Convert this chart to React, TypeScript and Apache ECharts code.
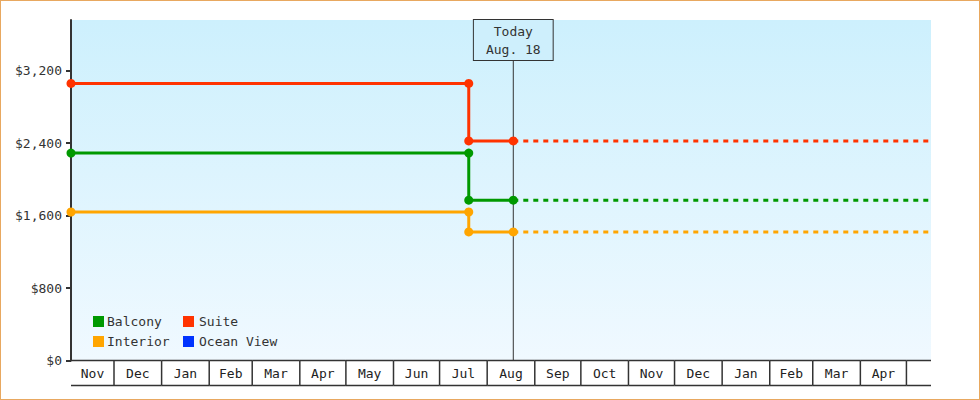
import React, { useEffect, useRef } from 'react';
import * as echarts from 'echarts';

// month cells under the plot
const monthLabels = ['Nov', 'Dec', 'Jan', 'Feb', 'Mar', 'Apr', 'May', 'Jun', 'Jul', 'Aug', 'Sep', 'Oct', 'Nov', 'Dec', 'Jan', 'Feb', 'Mar', 'Apr', 'May'];
const monthStarts = ['2024-11-01', '2024-12-01', '2025-01-01', '2025-02-01', '2025-03-01', '2025-04-01', '2025-05-01', '2025-06-01', '2025-07-01', '2025-08-01', '2025-09-01', '2025-10-01', '2025-11-01', '2025-12-01', '2026-01-01', '2026-02-01', '2026-03-01', '2026-04-01', '2026-05-01', '2026-06-01'];

const domainStart = '2024-11-03';
const domainEnd = '2026-05-17';
const todayDate = '2025-08-18';
const todayLabel = 'Today\nAug. 18';

// price history (solid) and forecast (dotted)
const priceDates = ['2024-11-03', '2025-07-20', '2025-07-20', '2025-08-18'];
const balconyPrices = [2290, 2290, 1770, 1770];
const suitePrices = [3060, 3060, 2425, 2425];
const interiorPrices = [1640, 1640, 1420, 1420];
const oceanViewPrices: number[] = [];
const forecastDates = ['2025-08-18', '2026-05-17'];

const yTicks = [0, 800, 1600, 2400, 3200];
const yMax = 3760;

const FONT = '"DejaVu Sans Mono", monospace';

const toMs = (s: string) => {
  const [y, m, d] = s.split('-').map(Number);
  return new Date(y, m - 1, d).getTime();
};

const App: React.FC = () => {
  const chartRef = useRef<HTMLDivElement>(null);

  useEffect(() => {
    document.body.style.margin = '0';
    if (!chartRef.current) return;
    const chart = echarts.init(chartRef.current, null, { renderer: 'svg' });

    const xMin = toMs(domainStart);
    const xMax = toMs(domainEnd);

    const history = (vals: number[]) => priceDates.map((d, i) => [toMs(d), vals[i]]);
    const forecast = (vals: number[]) =>
      vals.length ? forecastDates.map((d) => [toMs(d), vals[vals.length - 1]]) : [];

    const priceSeries = [
      { name: 'Balcony', color: '#009900', vals: balconyPrices },
      { name: 'Suite', color: '#ff3300', vals: suitePrices },
      { name: 'Interior', color: '#ffa500', vals: interiorPrices },
      { name: 'Ocean View', color: '#0033ff', vals: oceanViewPrices },
    ];

    const lineSeries: any[] = [];
    priceSeries.forEach((p) => {
      lineSeries.push({
        name: p.name,
        type: 'line',
        xAxisIndex: 0,
        yAxisIndex: 0,
        data: history(p.vals),
        color: p.color,
        symbol: 'circle',
        symbolSize: 9,
        lineStyle: { width: 3, color: p.color },
        itemStyle: { color: p.color },
        z: 3,
      });
      lineSeries.push({
        name: p.name,
        type: 'line',
        xAxisIndex: 0,
        yAxisIndex: 0,
        data: forecast(p.vals),
        color: p.color,
        showSymbol: false,
        lineStyle: { width: 3, color: p.color, type: [5, 5] },
        z: 2,
      });
    });

    const cells = monthLabels.map((label, i) => [toMs(monthStarts[i]), toMs(monthStarts[i + 1]), label]);

    const legendBase = {
      orient: 'vertical',
      top: 315,
      padding: 0,
      itemWidth: 11,
      itemHeight: 11,
      itemGap: 6,
      icon: 'rect',
      itemStyle: { borderWidth: 0 },
      selectedMode: false,
    };

    const option = {
      animation: false,
      grid: [
        {
          left: 71,
          right: 49,
          top: 20,
          bottom: 39.5,
          show: true,
          borderWidth: 0,
          backgroundColor: new echarts.graphic.LinearGradient(0, 0, 0, 1, [
            { offset: 0, color: '#cdf0fd' },
            { offset: 1, color: '#f0f9ff' },
          ]),
        },
        { left: 71, right: 49, top: 360.5, height: 25 },
      ],
      xAxis: [
        { type: 'time', gridIndex: 0, min: xMin, max: xMax, show: false },
        { type: 'time', gridIndex: 1, min: xMin, max: xMax, show: false },
      ],
      yAxis: [
        {
          type: 'value',
          gridIndex: 0,
          min: 0,
          max: yMax,
          splitLine: { show: false },
          axisLine: { show: true, lineStyle: { color: '#333', width: 2 } },
          axisTick: { show: true, length: 5, customValues: yTicks, lineStyle: { color: '#333', width: 2 } },
          axisLabel: {
            customValues: yTicks,
            margin: 9,
            color: '#333',
            fontFamily: FONT,
            fontSize: 13,
            formatter: (v: number) => '$' + v.toLocaleString('en-US'),
          },
        },
        { type: 'value', gridIndex: 1, min: 0, max: 1, show: false },
      ],
      legend: [
        {
          ...legendBase,
          data: ['Balcony', 'Interior'],
          left: 93,
          itemGap: 7,
          textStyle: { color: '#333', fontFamily: FONT, fontSize: 13, padding: [0, 0, 0, -2] },
        },
        {
          ...legendBase,
          data: ['Suite', 'Ocean View'],
          left: 183,
          itemGap: 7,
          textStyle: { color: '#333', fontFamily: FONT, fontSize: 13 },
        },
      ],
      series: [
        {
          name: 'today',
          type: 'custom',
          xAxisIndex: 0,
          yAxisIndex: 0,
          data: [[toMs(todayDate), yMax]],
          z: 1,
          silent: true,
          renderItem: (params: any, api: any) => {
            const top = api.coord([api.value(0), api.value(1)]);
            const bottom = api.coord([api.value(0), 0]);
            return {
              type: 'group',
              children: [
                {
                  type: 'line',
                  shape: { x1: top[0], y1: top[1] + 40, x2: bottom[0], y2: bottom[1] },
                  style: { stroke: '#333', lineWidth: 1 },
                },
                {
                  type: 'text',
                  x: top[0],
                  y: top[1],
                  style: {
                    text: todayLabel,
                    align: 'center',
                    verticalAlign: 'top',
                    fill: '#333',
                    font: '13px ' + FONT,
                    lineHeight: 18,
                    backgroundColor: '#ceeffc',
                    borderColor: '#333',
                    borderWidth: 1,
                    padding: [2, 12, 2, 12],
                  },
                },
              ],
            };
          },
        },
        ...lineSeries,
        {
          name: 'months',
          type: 'custom',
          xAxisIndex: 1,
          yAxisIndex: 1,
          data: cells,
          silent: true,
          clip: false,
          renderItem: (params: any, api: any) => {
            const cs = params.coordSys;
            const s = api.value(0);
            const e = api.value(1);
            const x0 = api.coord([Math.max(s, xMin), 0])[0];
            const x1 = api.coord([Math.min(e, xMax), 0])[0];
            if (x1 <= x0) return null;
            const children: any[] = [
              { type: 'line', shape: { x1: x0, y1: cs.y, x2: x1, y2: cs.y }, style: { stroke: '#333', lineWidth: 1.5 } },
              { type: 'line', shape: { x1: x0, y1: cs.y + cs.height, x2: x1, y2: cs.y + cs.height }, style: { stroke: '#333', lineWidth: 1.5 } },
            ];
            if (s >= xMin) {
              children.push({ type: 'line', shape: { x1: x0, y1: cs.y, x2: x0, y2: cs.y + cs.height }, style: { stroke: '#333', lineWidth: 1.5 } });
            }
            if (x1 - x0 > 30) {
              children.push({
                type: 'text',
                x: (x0 + x1) / 2,
                y: cs.y + cs.height / 2,
                style: {
                  text: cells[params.dataIndex][2] as string,
                  align: 'center',
                  verticalAlign: 'middle',
                  fill: '#222',
                  font: '13px ' + FONT,
                },
              });
            }
            return { type: 'group', children };
          },
        },
      ],
    };

    chart.setOption(option as any);
    return () => {
      chart.dispose();
    };
  }, []);

  return (
    <div style={{ position: 'relative', width: 980, height: 400 }}>
      <div ref={chartRef} style={{ position: 'absolute', left: 0, top: 0, width: 980, height: 400 }} />
      <div
        style={{
          position: 'absolute',
          left: 0,
          top: 0,
          width: 980,
          height: 400,
          boxSizing: 'border-box',
          border: '1px solid #e8a860',
          pointerEvents: 'none',
        }}
      />
    </div>
  );
};

export default App;
